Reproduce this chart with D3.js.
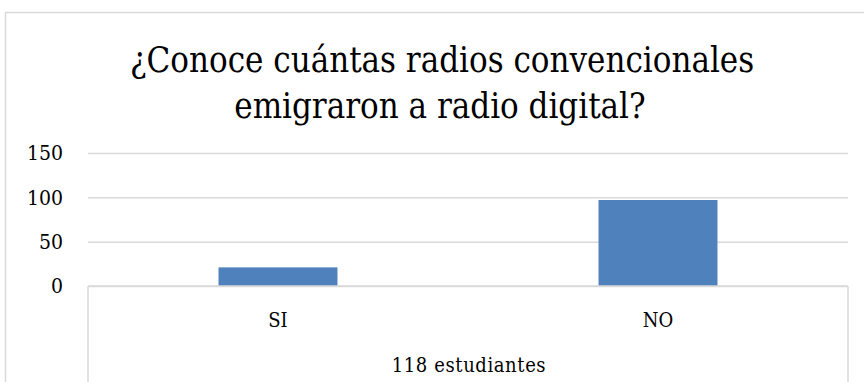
<!DOCTYPE html>
<html>
<head>
<meta charset="utf-8">
<script src="https://cdn.jsdelivr.net/npm/d3@7"></script>
<style>
  body { margin: 0; background: #fff; }
</style>
</head>
<body>
<div id="chart"></div>
<script>
// Chart data
var categories = ["SI", "NO"];
var values = [21, 97];
var yTicks = [0, 50, 100, 150];
var titleLines = ["¿Conoce cuántas radios convencionales", "emigraron a radio digital?"];
var groupLabel = "118 estudiantes";

var FONT = "'DejaVu Serif Condensed', 'DejaVu Serif', serif";
var W = 864, H = 382;
var margin = {top: 153, right: 16, bottom: 96, left: 88};
var width = W - margin.left - margin.right;
var height = H - margin.top - margin.bottom;

var svg = d3.select("#chart").append("svg")
  .attr("width", W)
  .attr("height", H);

// outer chart border (runs past the picture on the right and bottom)
svg.append("rect")
  .attr("x", 5.5).attr("y", 12.5)
  .attr("width", 880).attr("height", 420)
  .attr("fill", "none")
  .attr("stroke", "#d9d9d9")
  .attr("stroke-width", 1.5);

// Title
var title = svg.append("text")
  .attr("text-anchor", "middle")
  .style("font-family", FONT)
  .style("font-size", "34.5px")
  .attr("fill", "#000");
title.append("tspan").attr("x", 442).attr("y", 72).text(titleLines[0]);
title.append("tspan").attr("x", 440).attr("y", 118).text(titleLines[1]);

var g = svg.append("g")
  .attr("transform", "translate(" + margin.left + "," + margin.top + ")");

// Scales
var y = d3.scaleLinear().domain([0, 150]).range([height, 0]);
var x = d3.scaleBand().domain(categories).range([0, width]).padding(0);
var barW = x.bandwidth() * 0.313;

// Grid lines
g.append("g")
  .attr("class", "grid")
  .call(d3.axisLeft(y).tickValues(yTicks).tickSize(-width).tickFormat(""))
  .call(s => s.select(".domain").remove())
  .call(s => s.selectAll("line").attr("stroke", "#d9d9d9").attr("stroke-width", 1.5));

// Y axis labels
g.append("g")
  .call(d3.axisLeft(y).tickValues(yTicks).tickSize(0).tickPadding(25))
  .call(s => s.select(".domain").remove())
  .call(s => s.selectAll("text")
    .style("font-family", FONT)
    .style("font-size", "21px")
    .attr("fill", "#000"));

// Bars
g.selectAll("rect.bar")
  .data(values)
  .enter().append("rect")
  .attr("class", "bar")
  .attr("x", (d, i) => x(categories[i]) + (x.bandwidth() - barW) / 2)
  .attr("y", d => y(d))
  .attr("width", barW)
  .attr("height", d => y(0) - y(d))
  .attr("fill", "#4f81bd");

// X axis box (multi-level category axis)
var axisG = g.append("g").attr("stroke", "#d9d9d9").attr("stroke-width", 1.5);
axisG.append("line").attr("x1", 0).attr("x2", width).attr("y1", y(0)).attr("y2", y(0));
axisG.append("line").attr("x1", 0).attr("x2", 0).attr("y1", y(0)).attr("y2", H);
axisG.append("line").attr("x1", width).attr("x2", width).attr("y1", y(0)).attr("y2", H);

// Category labels
g.selectAll("text.cat")
  .data(categories)
  .enter().append("text")
  .attr("class", "cat")
  .attr("x", d => x(d) + x.bandwidth() / 2)
  .attr("y", y(0) + 41)
  .attr("text-anchor", "middle")
  .style("font-family", FONT)
  .style("font-size", "20px")
  .attr("fill", "#000")
  .text(d => d);

// Group label
g.append("text")
  .attr("x", width / 2 + 1)
  .attr("y", y(0) + 86)
  .attr("text-anchor", "middle")
  .style("font-family", FONT)
  .style("font-size", "20px")
  .style("letter-spacing", "0.6px")
  .attr("fill", "#000")
  .text(groupLabel);
</script>
</body>
</html>
